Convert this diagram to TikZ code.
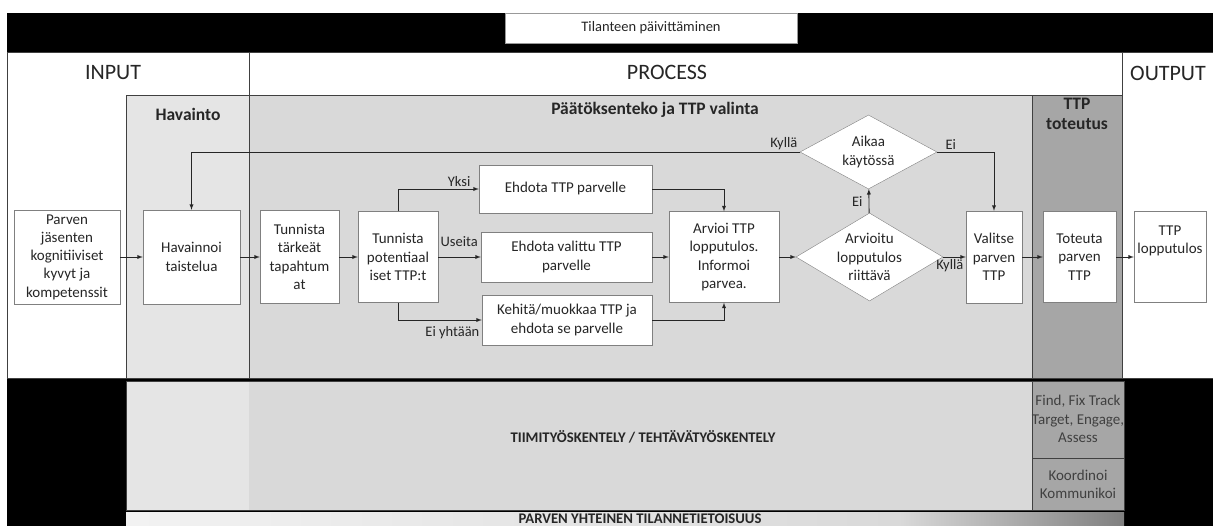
\documentclass[tikz,border=0pt]{standalone}
\usepackage{fontspec}
\setmainfont{Carlito}
\usetikzlibrary{shapes.geometric}
\begin{document}
\begin{tikzpicture}[x=1pt,y=-1pt,>=latex,
    every node/.style={font=\fontsize{15}{18.3}\selectfont,text=black!85},
    box/.style={draw=black!50,fill=white,align=center,inner sep=1pt},
    choice/.style={box,diamond,inner sep=-8pt},
    zone/.style={draw=black!75,line width=0.8pt},
    head/.style={font=\fontsize{17.5}{20}\selectfont\bfseries,align=center},
    big/.style={font=\fontsize{22}{26}\selectfont},
    band/.style={font=\fontsize{14.7}{17}\selectfont\bfseries},
    tag/.style={font=\fontsize{14.5}{17}\selectfont,inner sep=2pt}]
  \useasboundingbox (0,0) rectangle (1213,526);
  \fill[black] (7,13) rectangle (1213,52);
  \fill[black] (7,378) rectangle (1213,526);
  \draw[zone,fill=white] (7,52) rectangle (1213,378);
  \draw[zone] (249,52) -- (249,95) (1122,52) -- (1122,378);
  \draw[zone,fill=black!10] (126,95) rectangle (249,378);
  \draw[zone,fill=black!15] (249,95) rectangle (1032,378);
  \draw[zone,fill=black!35] (1032,95) rectangle (1122,378);
  \fill[black!10] (126,381) rectangle (249,510);
  \fill[black!15] (249,381) rectangle (1032,510);
  \draw[zone] (126,381) rectangle (1032,510);
  \draw[zone,fill=black!35] (1032,381) rectangle (1124,458);
  \draw[zone,fill=black!35] (1032,458) rectangle (1124,510);
  \shade[left color=black!5,right color=black!15] (126,512) rectangle (900,526);
  \shade[left color=black!15,right color=black!50] (900,512) rectangle (1124,526);

  \node[box,draw=black!40,minimum width=292,minimum height=30,font=\fontsize{14.5}{17}\selectfont] (paivitys) at (651,28) {Tilanteen päivittäminen};
  \node[big] (input) at (113,73) {INPUT};
  \node[big] (process) at (667,72) {PROCESS};
  \node[big] (output) at (1168,73) {OUTPUT};
  \node[head] (havainto) at (188,114) {Havainto};
  \node[head] (paatos) at (655,110) {Päätöksenteko ja TTP valinta};
  \node[head] (toteutus) at (1077,114) {TTP\\toteutus};
  \node[band] (tiimi) at (643,437) {TIIMITYÖSKENTELY / TEHTÄVÄTYÖSKENTELY};
  \node[align=center,text=black!75,inner sep=0pt] (find) at (1078,419) {Find, Fix Track\\Target, Engage,\\Assess};
  \node[align=center,text=black!75,inner sep=0pt] (koord) at (1078,484) {Koordinoi\\Kommunikoi};
  \node[band] (yhteinen) at (640,519) {PARVEN YHTEINEN TILANNETIETOISUUS};

  \node[box,minimum width=106,minimum height=94] (parven) at (67,257) {Parven\\jäsenten\\kognitiiviset\\kyvyt ja\\kompetenssit};
  \node[box,minimum width=97,minimum height=94] (havainnoi) at (191.5,257) {Havainnoi\\taistelua};
  \node[box,minimum width=79,minimum height=93] (tarkeat) at (299.5,257) {Tunnista\\tärkeät\\tapahtum\\at};
  \node[box,minimum width=80,minimum height=91] (potent) at (398,257) {Tunnista\\potentiaal\\iset TTP:t};
  \node[box,minimum width=173,minimum height=48] (yksi) at (565.5,189) {Ehdota TTP parvelle};
  \node[box,minimum width=171,minimum height=50] (useita) at (566.5,257) {Ehdota valittu TTP\\parvelle};
  \node[box,minimum width=170,minimum height=50] (kehita) at (567,320) {Kehitä/muokkaa TTP ja\\ehdota se parvelle};
  \node[box,minimum width=110,minimum height=91] (arvioi) at (724,257) {Arvioi TTP\\lopputulos.\\Informoi\\parvea.};
  \node[choice,aspect=1.67,minimum width=147,minimum height=88] (riittava) at (869.5,257) {Arvioitu\\lopputulos\\riittävä};
  \node[choice,aspect=1.85,minimum width=137,minimum height=74] (aikaa) at (868.5,152) {Aikaa\\käytössä};
  \node[box,minimum width=56,minimum height=92] (valitse) at (994,257) {Valitse\\parven\\TTP};
  \node[box,minimum width=73,minimum height=91] (toteuta) at (1079.5,257) {Toteuta\\parven\\TTP};
  \node[box,minimum width=72,minimum height=91,text depth=34] (tulos) at (1170,257) {TTP\\lopputulos};

  \begin{scope}[->,draw=black!85,line width=0.9pt]
    \draw (parven) to (havainnoi);
    \draw (havainnoi) to (tarkeat);
    \draw (tarkeat) to (potent);
    \draw (potent.north) |- (yksi.west) node[tag,pos=1,anchor=south east,xshift=-6] {Yksi};
    \draw (potent) to node[tag,pos=0,anchor=south west,yshift=8] {Useita} (useita);
    \draw (potent.south) |- (kehita.west) node[tag,pos=1,anchor=north east,yshift=-4] {Ei yhtään};
    \draw (yksi.east) -| (arvioi.north);
    \draw (useita) to (arvioi);
    \draw (kehita.east) -| (arvioi.south);
    \draw (arvioi) to (riittava);
    \draw (riittava) to node[tag,left,xshift=-4] {Ei} (aikaa);
    \draw (riittava) to node[tag,pos=1,anchor=north east] {Kyllä} (valitse);
    \draw (aikaa.east) -| (valitse.north) node[tag,pos=0,anchor=south west,xshift=6] {Ei};
    \draw (aikaa.west) -| (havainnoi.north) node[tag,pos=0,anchor=south east] {Kyllä};
    \draw (valitse) to (toteuta);
    \draw (toteuta) to (tulos);
  \end{scope}
\end{tikzpicture}
\end{document}
